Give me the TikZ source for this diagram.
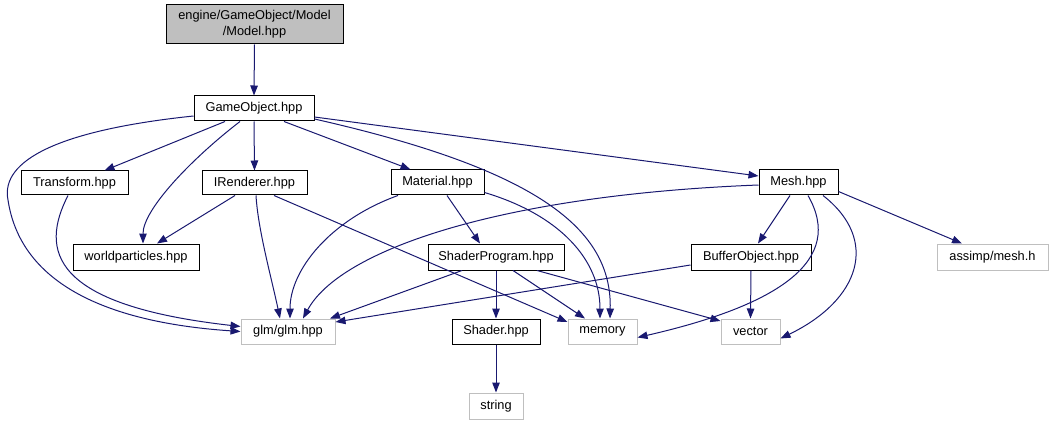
\documentclass[tikz,border=0pt]{standalone}
\usepackage{fontspec}
\setmainfont{Liberation Sans}
\usetikzlibrary{arrows.meta}
\definecolor{edgeblue}{HTML}{191970}
\definecolor{extgray}{HTML}{BFBFBF}
\begin{document}
\begin{tikzpicture}[x=1pt,y=-1pt,
  box/.style={draw=black,line width=1pt,fill=white,inner sep=0pt,font=\fontsize{12.8}{16}\selectfont},
  extbox/.style={box,draw=extgray},
  edge/.style={draw=edgeblue,line width=1pt,-{Triangle[length=10pt,width=7.5pt]}}]
\useasboundingbox (0,0) rectangle (1053,425);
% nodes
\node[box,fill=extgray,minimum width=177pt,minimum height=39pt,align=center] (model) at (254.5,24.5) {engine/GameObject/Model\\/Model.hpp};
\node[box,minimum width=120pt,minimum height=25pt] (go) at (254,108.5) {GameObject.hpp};
\node[box,minimum width=107pt,minimum height=24pt] (transform) at (74.5,183) {Transform.hpp};
\node[box,minimum width=105pt,minimum height=24pt] (irenderer) at (254.5,183) {IRenderer.hpp};
\node[box,minimum width=93pt,minimum height=25pt] (material) at (437.5,182.5) {Material.hpp};
\node[box,minimum width=79pt,minimum height=25pt] (mesh) at (798.5,182.5) {Mesh.hpp};
\node[box,minimum width=126pt,minimum height=26pt] (worldp) at (136,257) {worldparticles.hpp};
\node[box,minimum width=136pt,minimum height=26pt] (shaderprog) at (496,257) {ShaderProgram.hpp};
\node[box,minimum width=120pt,minimum height=26pt] (buffer) at (751,257) {BufferObject.hpp};
\node[extbox,minimum width=111pt,minimum height=26pt] (assimp) at (992.5,257) {assimp/mesh.h};
\node[extbox,minimum width=94pt,minimum height=25pt] (glm) at (288,331.5) {glm/glm.hpp};
\node[box,minimum width=88pt,minimum height=25pt] (shader) at (496,331.5) {Shader.hpp};
\node[extbox,minimum width=69pt,minimum height=25pt] (memory) at (602.5,331.5) {memory};
\node[extbox,minimum width=59pt,minimum height=25pt] (vector) at (750.5,331.5) {vector};
\node[extbox,minimum width=54pt,minimum height=26pt] (string) at (496,406) {string};
% edges
\draw[edge] (model.south) -- (go.north);
\draw[edge] ([xshift=-29pt]go.south) -- ([xshift=30pt]transform.north);
\draw[edge] (go.south) -- (irenderer.north);
\draw[edge] ([xshift=30pt]go.south) -- ([xshift=-27pt]material.north);
\draw[edge] ([yshift=-8.5pt]go.east) -- ([yshift=6.5pt]mesh.west);
\draw[edge] ([yshift=-7.5pt]go.west) .. controls (60,130) and (0,160) .. (8,200) .. controls (20,280) and (100,322) .. (glm.west);
\draw[edge] ([xshift=-14pt]go.south) .. controls (190,160) and (143,210) .. ([xshift=7pt]worldp.north);
\draw[edge] ([yshift=-10.5pt]go.east) .. controls (540,170) and (612,230) .. ([xshift=7.5pt]memory.north);
\draw[edge] ([xshift=-6.5pt]transform.south) .. controls (40,250) and (50,305) .. ([yshift=5pt]glm.west);
\draw[edge] ([xshift=-19.5pt]irenderer.south) -- ([xshift=21pt]worldp.north);
\draw[edge] ([xshift=1.5pt]irenderer.south) .. controls (258,230) and (272,280) .. ([xshift=-8pt]glm.north);
\draw[edge] ([xshift=19.5pt]irenderer.south) -- ([yshift=9.5pt]memory.west);
\draw[edge] ([xshift=-39.5pt]material.south) .. controls (330,220) and (290,270) .. ([xshift=2pt]glm.north);
\draw[edge] ([xshift=9.5pt]material.south) -- ([xshift=-16pt]shaderprog.north);
\draw[edge] ([yshift=-10pt]material.east) .. controls (560,215) and (600,260) .. ([xshift=-2.5pt]memory.north);
\draw[edge] ([yshift=-2.5pt]mesh.west) .. controls (500,195) and (340,250) .. ([xshift=15pt]glm.north);
\draw[edge] ([xshift=-8.5pt]mesh.south) -- ([xshift=7pt]buffer.north);
\draw[edge] ([xshift=9.5pt]mesh.south) .. controls (845,260) and (780,305) .. ([yshift=-6pt]memory.east);
\draw[edge] ([xshift=24.5pt]mesh.south) .. controls (880,240) and (860,300) .. ([yshift=-7pt]vector.east);
\draw[edge] ([yshift=-9pt]mesh.east) -- ([xshift=-30.5pt]assimp.north);
\draw[edge] ([xshift=-34pt]shaderprog.south) -- ([xshift=42pt]glm.north);
\draw[edge] (shaderprog.south) -- (shader.north);
\draw[edge] ([xshift=17pt]shaderprog.south) -- ([xshift=-17.5pt]memory.north);
\draw[edge] ([xshift=41pt]shaderprog.south) -- ([yshift=10.5pt]vector.west);
\draw[edge] ([yshift=-8pt]buffer.west) -- ([yshift=9.5pt]glm.east);
\draw[edge] (buffer.south) -- (vector.north);
\draw[edge] (shader.south) -- (string.north);
\end{tikzpicture}
\end{document}
